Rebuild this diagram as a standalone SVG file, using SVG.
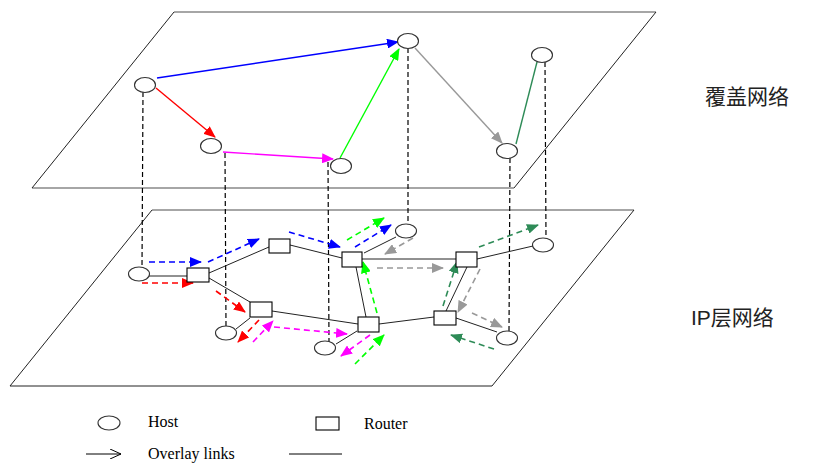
<svg xmlns="http://www.w3.org/2000/svg" width="822" height="473" viewBox="0 0 822 473">
<style>
.plane{fill:none;stroke:#222;stroke-width:1}
.pedge{fill:none;stroke:#888;stroke-width:1.3}
.host{fill:#fff;stroke:#333;stroke-width:1.1}
.router{fill:#fff;stroke:#000;stroke-width:1.1}
.link{stroke:#222;stroke-width:1;fill:none}
.proj{stroke:#000;stroke-width:1.2;stroke-dasharray:5,3;fill:none}
.ov{stroke-width:1.4;fill:none}
.d{stroke-width:1.6;stroke-dasharray:6,4;fill:none}
.lbl{font-family:"Liberation Serif","Times New Roman",serif;font-size:16px;fill:#000}
.cjk{font-family:"Liberation Sans","Noto Sans CJK SC",sans-serif;font-size:21px;fill:#222}
</style>
<defs>
<marker id="aB" markerUnits="userSpaceOnUse" markerWidth="12" markerHeight="10" refX="11" refY="5" orient="auto"><path d="M0,0 L12,5 L0,10 Z" fill="#0000ff"/></marker>
<marker id="aR" markerUnits="userSpaceOnUse" markerWidth="12" markerHeight="10" refX="11" refY="5" orient="auto"><path d="M0,0 L12,5 L0,10 Z" fill="#ff0000"/></marker>
<marker id="aM" markerUnits="userSpaceOnUse" markerWidth="12" markerHeight="10" refX="11" refY="5" orient="auto"><path d="M0,0 L12,5 L0,10 Z" fill="#ff00ff"/></marker>
<marker id="aG" markerUnits="userSpaceOnUse" markerWidth="12" markerHeight="10" refX="11" refY="5" orient="auto"><path d="M0,0 L12,5 L0,10 Z" fill="#00ff00"/></marker>
<marker id="aY" markerUnits="userSpaceOnUse" markerWidth="12" markerHeight="10" refX="11" refY="5" orient="auto"><path d="M0,0 L12,5 L0,10 Z" fill="#999999"/></marker>
<marker id="aS" markerUnits="userSpaceOnUse" markerWidth="12" markerHeight="10" refX="11" refY="5" orient="auto"><path d="M0,0 L12,5 L0,10 Z" fill="#2e8b57"/></marker>
<marker id="aK" markerUnits="userSpaceOnUse" markerWidth="12" markerHeight="10" refX="11" refY="5" orient="auto"><path d="M0,0 L11,5 L0,10" fill="none" stroke="#000" stroke-width="1"/></marker>
</defs>

<g id="overlay-plane">
<line class="pedge" x1="174" y1="12" x2="656" y2="12"/>
<line class="plane" x1="656" y1="12" x2="514" y2="188"/>
<line class="pedge" x1="514" y1="188" x2="32" y2="188"/>
<line class="plane" x1="32" y1="188" x2="174" y2="12"/>
</g>
<g id="ip-plane">
<line class="pedge" x1="152" y1="210" x2="634" y2="210"/>
<line class="plane" x1="634" y1="210" x2="492" y2="386"/>
<line class="plane" x1="492" y1="386" x2="10" y2="386"/>
<line class="plane" x1="10" y1="386" x2="152" y2="210"/>
</g>

<g id="connectors">
<line class="proj" x1="143" y1="92" x2="142" y2="267"/>
<line class="proj" x1="225" y1="153" x2="226" y2="326"/>
<line class="proj" x1="328" y1="162" x2="329" y2="342"/>
<line class="proj" x1="408" y1="48" x2="408" y2="225"/>
<line class="proj" x1="510" y1="158" x2="509" y2="331"/>
<line class="proj" x1="545" y1="62" x2="546" y2="239"/>
<line class="ov" stroke="#0000ff" x1="157" y1="78" x2="398" y2="42" marker-end="url(#aB)"/>
<line class="ov" stroke="#ff0000" x1="156" y1="88" x2="215" y2="137" marker-end="url(#aR)"/>
<line class="ov" stroke="#ff00ff" x1="223" y1="152" x2="333" y2="159" marker-end="url(#aM)"/>
<line class="ov" stroke="#00ff00" x1="340" y1="158" x2="399" y2="49" marker-end="url(#aG)"/>
<line class="ov" stroke="#999999" x1="415" y1="48" x2="502" y2="143" marker-end="url(#aY)"/>
<line class="ov" stroke="#2e8b57" x1="516" y1="144" x2="537" y2="62"/>
<line class="link" x1="149" y1="276" x2="187" y2="276"/>
<line class="link" x1="209" y1="273" x2="269" y2="247"/>
<line class="link" x1="209" y1="278" x2="250" y2="302"/>
<line class="link" x1="250" y1="318" x2="236" y2="329"/>
<line class="link" x1="272" y1="311" x2="358" y2="324"/>
<line class="link" x1="290" y1="245" x2="342" y2="258"/>
<line class="link" x1="364" y1="253" x2="396" y2="237"/>
<line class="link" stroke-width="1.5" x1="362" y1="259" x2="456" y2="259"/>
<line class="link" x1="356" y1="267" x2="366" y2="317"/>
<line class="link" x1="357" y1="331" x2="336" y2="344"/>
<line class="link" x1="379" y1="324" x2="434" y2="317"/>
<line class="link" x1="467" y1="267" x2="446" y2="311"/>
<line class="link" x1="477" y1="259" x2="533" y2="246"/>
<line class="link" x1="456" y1="318" x2="497" y2="332"/>
<line class="d" stroke="#0000ff" x1="149" y1="262" x2="201" y2="262" marker-end="url(#aB)"/>
<line class="d" stroke="#0000ff" x1="208" y1="262" x2="259" y2="239" marker-end="url(#aB)"/>
<line class="d" stroke="#0000ff" x1="289" y1="232" x2="340" y2="247" marker-end="url(#aB)"/>
<line class="d" stroke="#0000ff" x1="355" y1="247" x2="391" y2="225" marker-end="url(#aB)"/>
<line class="d" stroke="#ff0000" x1="142" y1="283" x2="193" y2="283" marker-end="url(#aR)"/>
<line class="d" stroke="#ff0000" x1="216" y1="291" x2="245" y2="312" marker-end="url(#aR)"/>
<line class="d" stroke="#ff0000" x1="259" y1="320" x2="238" y2="342" marker-end="url(#aR)"/>
<line class="d" stroke="#ff00ff" x1="253" y1="342" x2="273" y2="321" marker-end="url(#aM)"/>
<line class="d" stroke="#ff00ff" x1="274" y1="327" x2="347" y2="334" marker-end="url(#aM)"/>
<line class="d" stroke="#ff00ff" x1="370" y1="335" x2="341" y2="356" marker-end="url(#aM)"/>
<line class="d" stroke="#00ff00" x1="355" y1="364" x2="384" y2="335" marker-end="url(#aG)"/>
<line class="d" stroke="#00ff00" x1="377" y1="313" x2="363" y2="262" marker-end="url(#aG)"/>
<line class="d" stroke="#00ff00" x1="347" y1="240" x2="384" y2="218" marker-end="url(#aG)"/>
<line class="d" stroke="#999999" x1="413" y1="238" x2="385" y2="254" marker-end="url(#aY)"/>
<line class="d" stroke="#999999" x1="377" y1="268" x2="443" y2="268" marker-end="url(#aY)"/>
<line class="d" stroke="#999999" x1="480" y1="269" x2="458" y2="312" marker-end="url(#aY)"/>
<line class="d" stroke="#999999" x1="472" y1="313" x2="502" y2="327" marker-end="url(#aY)"/>
<line class="d" stroke="#2e8b57" x1="494" y1="349" x2="451" y2="335" marker-end="url(#aS)"/>
<line class="d" stroke="#2e8b57" x1="443" y1="306" x2="457" y2="262" marker-end="url(#aS)"/>
<line class="d" stroke="#2e8b57" x1="479" y1="247" x2="538" y2="225" marker-end="url(#aS)"/>
</g>

<g id="overlay-hosts">
<ellipse id="oh1" class="host" cx="145" cy="85" rx="10.5" ry="7.5"/>
<ellipse id="oh2" class="host" cx="211" cy="146" rx="10.5" ry="7.5"/>
<ellipse id="oh3" class="host" cx="341" cy="166" rx="10.5" ry="7.5"/>
<ellipse id="oh4" class="host" cx="408" cy="41" rx="10.5" ry="7.5"/>
<ellipse id="oh5" class="host" cx="507" cy="151" rx="10.5" ry="7.5"/>
<ellipse id="oh6" class="host" cx="542" cy="55" rx="10.5" ry="7.5"/>
</g>
<g id="ip-hosts">
<ellipse id="h1" class="host" cx="139" cy="274" rx="10.5" ry="7"/>
<ellipse id="h2" class="host" cx="226" cy="333" rx="10.5" ry="7"/>
<ellipse id="h3" class="host" cx="325" cy="348" rx="10.5" ry="7"/>
<ellipse id="h4" class="host" cx="406" cy="231" rx="10.5" ry="7"/>
<ellipse id="h5" class="host" cx="507" cy="338" rx="10.5" ry="7"/>
<ellipse id="h6" class="host" cx="543" cy="245" rx="10.5" ry="7"/>
</g>
<g id="routers">
<rect id="r1" class="router" x="187" y="268" width="22" height="14"/>
<rect id="r2" class="router" x="269" y="239" width="21" height="14"/>
<rect id="r3" class="router" x="250" y="302" width="22" height="15"/>
<rect id="r4" class="router" x="342" y="252" width="20" height="15"/>
<rect id="r5" class="router" x="358" y="317" width="21" height="15"/>
<rect id="r6" class="router" x="456" y="252" width="21" height="15"/>
<rect id="r7" class="router" x="434" y="311" width="22" height="14"/>
</g>

<g id="labels">
<text class="cjk" x="705" y="104">覆盖网络</text>
<text class="cjk" x="691" y="325">IP层网络</text>
</g>

<g id="legend">
<ellipse class="host" cx="109" cy="423" rx="11" ry="7"/>
<text class="lbl" x="148" y="427">Host</text>
<rect class="router" x="316" y="417" width="23" height="13"/>
<text class="lbl" x="364" y="429">Router</text>
<line stroke="#000" stroke-width="1" x1="86" y1="454" x2="121" y2="454" marker-end="url(#aK)"/>
<text class="lbl" x="148" y="459">Overlay links</text>
<line stroke="#000" stroke-width="1" x1="289" y1="454" x2="342" y2="454"/>
</g>
</svg>
